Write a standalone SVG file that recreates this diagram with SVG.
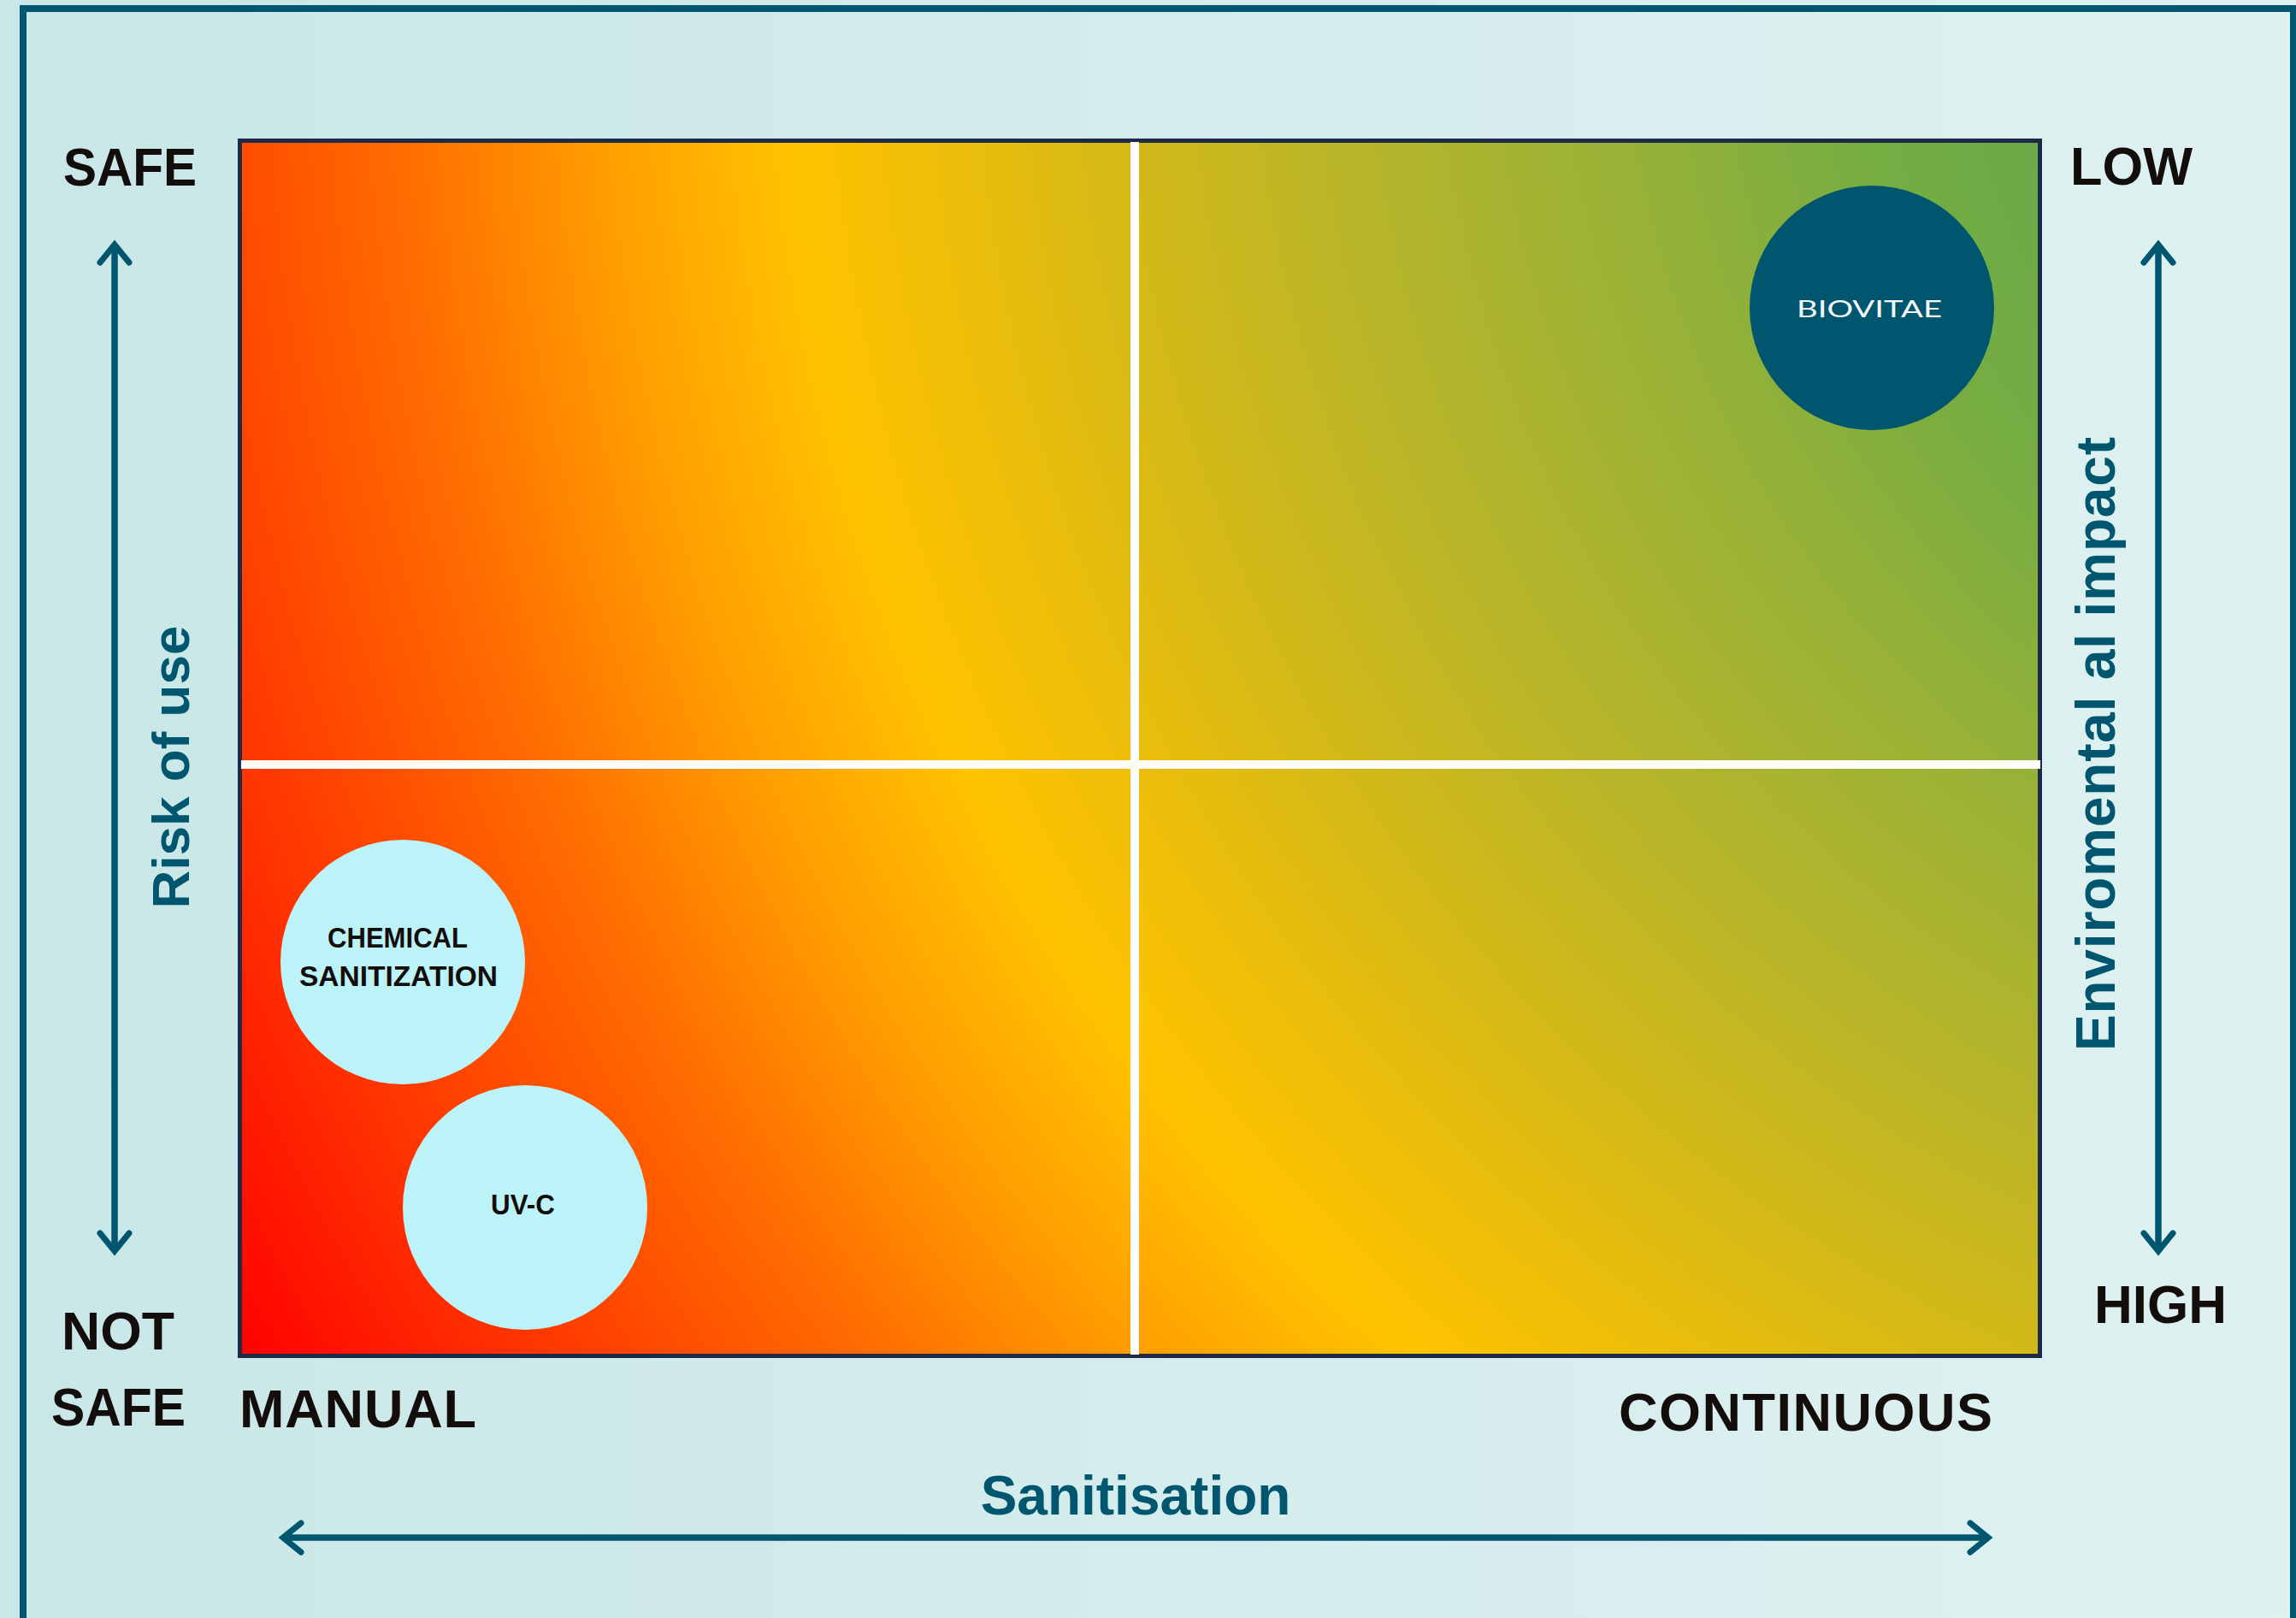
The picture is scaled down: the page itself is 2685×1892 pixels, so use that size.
<svg xmlns="http://www.w3.org/2000/svg" width="2685" height="1892" viewBox="0 0 2685 1892">
  <defs>
    <linearGradient id="bg" x1="0" y1="0" x2="1" y2="0">
      <stop offset="0" stop-color="#c9e7e8"/>
      <stop offset="0.5" stop-color="#d4ecec"/>
      <stop offset="1" stop-color="#dff1f1"/>
    </linearGradient>
    <radialGradient id="heat" gradientUnits="userSpaceOnUse" cx="3058" cy="-30" r="3250" fx="3058" fy="-30">
      <stop offset="0" stop-color="#5ea74c"/>
      <stop offset="0.215" stop-color="#6aaa48"/>
      <stop offset="0.277" stop-color="#76ad42"/>
      <stop offset="0.351" stop-color="#94b138"/>
      <stop offset="0.46" stop-color="#b8b52a"/>
      <stop offset="0.536" stop-color="#d2b918"/>
      <stop offset="0.60" stop-color="#ebbd0a"/>
      <stop offset="0.659" stop-color="#ffc300"/>
      <stop offset="0.729" stop-color="#ff9c00"/>
      <stop offset="0.80" stop-color="#ff6c00"/>
      <stop offset="0.857" stop-color="#ff4c00"/>
      <stop offset="0.90" stop-color="#ff3400"/>
      <stop offset="0.99" stop-color="#ff0000"/>
    </radialGradient>
    <marker id="chev" markerUnits="userSpaceOnUse" markerWidth="40" markerHeight="50" viewBox="-30 -25 40 50" refX="0" refY="0" orient="auto-start-reverse" overflow="visible">
      <path d="M-21,-17 L0,0 L-21,17" fill="none" stroke="#00566f" stroke-width="7" stroke-linecap="round" stroke-linejoin="miter"/>
    </marker>
    <style>
      .lbl { font-family: "Liberation Sans", Arial, sans-serif; font-weight: bold; fill: #130d0b; font-size: 63px; }
      .axis { font-family: "Liberation Sans", Arial, sans-serif; font-weight: bold; fill: #00566f; }
      .node { font-family: "Liberation Sans", Arial, sans-serif; font-weight: bold; fill: #130d0b; font-size: 34px; }
      .arrow { stroke: #00566f; stroke-width: 7.5; fill: none; marker-start: url(#chev); marker-end: url(#chev); }
      .cross { stroke: #ffffff; stroke-width: 10; }
    </style>
  </defs>

  <rect x="0" y="0" width="2685" height="1892" fill="url(#bg)"/>
  <path d="M27,1900 V10 H2682 V1900" fill="none" stroke="#00566f" stroke-width="8"/>

  <g id="plot">
    <rect x="280.5" y="164.5" width="2105" height="1421" fill="url(#heat)" stroke="#1e2b48" stroke-width="5"/>
    <line class="cross" x1="1327" y1="166" x2="1327" y2="1584"/>
    <line class="cross" x1="282" y1="894" x2="2386" y2="894"/>
  </g>

  <g id="connectors">
    <line class="arrow" x1="134" y1="286" x2="134" y2="1463"/>
    <line class="arrow" x1="2524" y1="286" x2="2524" y2="1463"/>
    <line class="arrow" x1="331" y1="1798" x2="2325" y2="1798"/>
  </g>

  <g id="node-biovitae">
    <circle cx="2189" cy="360" r="143" fill="#00566f"/>
    <text x="2101" y="371" textLength="170" lengthAdjust="spacingAndGlyphs" font-family="Lato, 'Open Sans', sans-serif" font-weight="400" font-size="27" fill="#f4f8f9">BIOVITAE</text>
  </g>
  <g id="node-chemical">
    <circle cx="471" cy="1125" r="143" fill="#bcf3f8"/>
    <text class="node" x="383" y="1108" textLength="164" lengthAdjust="spacingAndGlyphs">CHEMICAL</text>
    <text class="node" x="350" y="1153" textLength="232" lengthAdjust="spacingAndGlyphs">SANITIZATION</text>
  </g>
  <g id="node-uvc">
    <circle cx="614" cy="1412" r="143" fill="#bcf3f8"/>
    <text class="node" x="574" y="1420" textLength="75" lengthAdjust="spacingAndGlyphs">UV-C</text>
  </g>

  <g id="label-safe"><text class="lbl" x="74" y="217" textLength="156" lengthAdjust="spacingAndGlyphs">SAFE</text></g>
  <g id="label-not-safe">
    <text class="lbl" x="72" y="1578" textLength="132" lengthAdjust="spacingAndGlyphs">NOT</text>
    <text class="lbl" x="60" y="1667" textLength="157" lengthAdjust="spacingAndGlyphs">SAFE</text>
  </g>
  <g id="label-low"><text class="lbl" x="2421" y="216" textLength="143" lengthAdjust="spacingAndGlyphs">LOW</text></g>
  <g id="label-high"><text class="lbl" x="2449" y="1547" textLength="155" lengthAdjust="spacingAndGlyphs">HIGH</text></g>
  <g id="label-manual"><text class="lbl" x="280" y="1669" textLength="277">MANUAL</text></g>
  <g id="label-continuous"><text class="lbl" x="1893" y="1673" textLength="437">CONTINUOUS</text></g>

  <g id="axis-sanitisation"><text class="axis" x="1328" y="1771" font-size="64" text-anchor="middle">Sanitisation</text></g>
  <g id="axis-risk"><text class="axis" font-size="62" text-anchor="middle" transform="translate(221,897) rotate(-90)">Risk of use</text></g>
  <g id="axis-impact"><text class="axis" font-size="64" text-anchor="middle" textLength="718" transform="translate(2473,870) rotate(-90)">Enviromental al impact</text></g>
</svg>
